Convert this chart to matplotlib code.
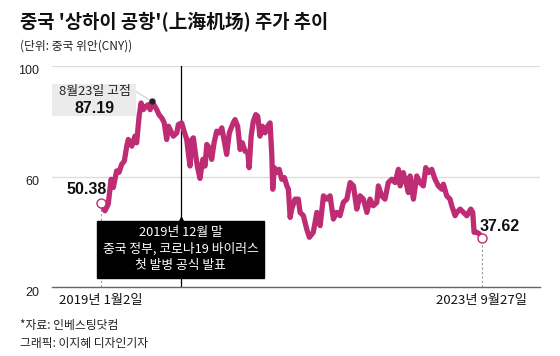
import matplotlib
matplotlib.use('Agg')
import matplotlib.pyplot as plt
import matplotlib.dates as mdates
from matplotlib.transforms import ScaledTranslation
import pandas as pd

plt.rcParams['font.family'] = ['Noto Sans CJK KR', 'DejaVu Sans']
NUMFONT = ['Liberation Sans', 'DejaVu Sans']

dates = [
    '2019-01-02', '2019-01-22', '2019-02-06', '2019-02-19', '2019-03-01', '2019-03-16',
    '2019-03-27', '2019-04-08', '2019-04-20', '2019-05-01', '2019-05-08', '2019-05-24',
    '2019-06-07', '2019-06-15', '2019-06-26', '2019-07-05', '2019-07-15', '2019-07-26',
    '2019-08-07', '2019-08-15', '2019-08-19', '2019-08-23', '2019-09-14', '2019-09-24',
    '2019-10-07', '2019-10-18', '2019-10-29', '2019-11-06', '2019-11-21', '2019-11-28',
    '2019-12-14', '2019-12-21', '2020-01-05', '2020-01-16', '2020-01-28', '2020-02-04',
    '2020-02-12', '2020-02-20', '2020-02-27', '2020-03-09', '2020-03-16', '2020-03-28',
    '2020-04-10', '2020-04-20', '2020-04-28', '2020-05-09', '2020-05-20', '2020-05-31',
    '2020-06-12', '2020-06-24', '2020-07-05', '2020-07-15', '2020-07-27', '2020-08-08',
    '2020-08-26', '2020-09-03', '2020-09-15', '2020-09-26', '2020-10-06', '2020-10-18',
    '2020-10-31', '2020-11-06', '2020-11-15', '2020-11-25', '2020-12-06', '2020-12-15',
    '2020-12-25', '2021-01-05', '2021-01-17', '2021-01-29', '2021-02-09', '2021-02-17',
    '2021-02-21', '2021-02-28', '2021-03-11', '2021-03-22', '2021-04-03', '2021-04-15',
    '2021-04-26', '2021-05-03', '2021-05-11', '2021-05-18', '2021-06-02', '2021-06-17',
    '2021-06-25', '2021-07-10', '2021-07-25', '2021-08-06', '2021-08-24', '2021-09-09',
    '2021-09-24', '2021-10-09', '2021-10-24', '2021-11-08', '2021-11-23', '2021-12-08',
    '2021-12-23', '2022-01-07', '2022-01-23', '2022-02-07', '2022-02-22', '2022-03-09',
    '2022-03-24', '2022-04-08', '2022-04-24', '2022-05-08', '2022-05-23', '2022-06-08',
    '2022-06-15', '2022-06-30', '2022-07-15', '2022-07-30', '2022-08-15', '2022-08-30',
    '2022-09-14', '2022-09-22', '2022-10-06', '2022-10-22', '2022-10-29', '2022-11-06',
    '2022-11-21', '2022-12-06', '2022-12-21', '2023-01-05', '2023-01-16', '2023-01-28',
    '2023-02-12', '2023-02-27', '2023-03-14', '2023-03-30', '2023-04-06', '2023-04-21',
    '2023-05-06', '2023-05-14', '2023-05-29', '2023-06-06', '2023-06-21', '2023-07-06',
    '2023-07-21', '2023-08-08', '2023-08-17', '2023-08-23', '2023-09-04', '2023-09-16',
    '2023-09-27',
]
prices = [
    50.38, 47.6, 50.0, 59.0, 56.0, 62.0,
    61.5, 64.4, 65.6, 71.0, 73.4, 71.0,
    74.6, 72.2, 81.8, 86.6, 84.2, 85.4,
    86.0, 84.2, 86.0, 87.19, 84.2, 82.4,
    81.2, 79.4, 73.4, 78.2, 75.8, 74.6,
    75.8, 78.8, 79.4, 76.4, 73.4, 68.6,
    63.8, 73.4, 74.0, 67.4, 63.8, 59.3,
    66.2, 63.8, 71.6, 70.4, 66.2, 72.2,
    76.4, 75.8, 77.6, 73.4, 68.0, 75.8,
    79.4, 80.6, 78.2, 69.8, 72.2, 69.2,
    68.6, 63.2, 74.6, 80.0, 82.4, 81.8,
    74.6, 78.2, 75.8, 78.2, 79.4, 67.4,
    55.4, 63.2, 61.4, 62.6, 59.0, 59.6,
    56.6, 55.4, 45.2, 48.2, 51.8, 51.8,
    47.0, 45.8, 41.0, 38.0, 39.8, 47.0,
    42.2, 53.0, 51.8, 53.0, 44.6, 47.0,
    45.8, 50.6, 51.8, 57.8, 56.6, 48.2,
    53.0, 51.8, 47.0, 51.8, 49.4, 50.6,
    56.6, 53.0, 51.8, 57.8, 59.0, 57.8,
    62.6, 56.6, 61.4, 56.6, 54.2, 60.2,
    51.8, 60.2, 57.8, 56.6, 63.2, 61.4,
    62.6, 59.0, 56.6, 55.4, 57.2, 53.0,
    51.8, 49.4, 45.8, 47.0, 48.2, 47.0,
    45.8, 48.2, 47.0, 39.8, 39.8, 39.2,
    37.62,
]

yticks = [20, 60, 100]
title = "중국 '상하이 공항'(上海机场) 주가 추이"
subtitle = "(단위: 중국 위안(CNY))"
peak_label = "8월23일 고점"
event_date = '2019-12-31'
event_text = "2019년 12월 말\n중국 정부, 코로나19 바이러스\n첫 발병 공식 발표"
start_label = "2019년 1월2일"
end_label = "2023년 9월27일"
source1 = "*자료: 인베스팅닷컴"
source2 = "그래픽: 이지혜 디자인기자"

LINE = '#BE2D74'

d = pd.to_datetime(dates)
s = pd.Series(prices, index=d)
peak_date = s.idxmax()
peak_val = s.max()

fig = plt.figure(figsize=(5.6, 3.56), dpi=100)
W, H = 560, 356
ax = fig.add_axes([52 / W, 1 - 287 / H, (540 - 52) / W, (287 - 66) / H])
ax.set_xlim(pd.Timestamp('2018-05-27'), pd.Timestamp('2024-06-17'))
ax.set_ylim(20, 100)

for sp in ['left', 'right', 'top']:
    ax.spines[sp].set_visible(False)
ax.spines['bottom'].set_color('#666666')
ax.spines['bottom'].set_linewidth(1.0)
ax.set_xticks([])
ax.set_yticks(yticks)
ax.set_yticklabels([str(v) for v in yticks], fontsize=9, color='#222222', family=NUMFONT)
ax.tick_params(axis='y', length=0, pad=9)
for lab in ax.get_yticklabels():
    lab.set_transform(lab.get_transform() + ScaledTranslation(0, -4 / 100, fig.dpi_scale_trans))
for v in yticks[1:]:
    ax.axhline(v, color='#dddddd', lw=1.0, zorder=0)

# event line
ev = pd.Timestamp(event_date)
ax.axvline(ev, color='black', lw=0.9, zorder=1)

# dashed drop lines
ax.plot([d[0], d[0]], [20, prices[0]], color='#999999', lw=0.8, ls=(0, (2, 2)), zorder=1)
ax.plot([d[-1], d[-1]], [20, prices[-1]], color='#999999', lw=0.8, ls=(0, (2, 2)), zorder=1)

# main line
ax.plot(d, prices, color=LINE, lw=3.8, solid_joinstyle='round', solid_capstyle='round', zorder=3)

# endpoints
ax.plot([d[0]], [prices[0]], 'o', ms=6.5, mfc='white', mec=LINE, mew=1.0, zorder=4)
ax.plot([d[-1]], [prices[-1]], 'o', ms=6.5, mfc='white', mec=LINE, mew=1.0, zorder=4)
ax.plot([peak_date], [peak_val], 'o', ms=3.5, color='#222222', zorder=5)

ax.annotate(f"{prices[0]:.2f}", (d[0], prices[0]), xytext=(-10, 9.5), textcoords='offset points',
            ha='center', va='center', fontsize=11.5, fontweight='bold', color='#111111', zorder=6,
            family=NUMFONT)
ax.annotate(f"{prices[-1]:.2f}", (d[-1], prices[-1]), xytext=(13, 8.5), textcoords='offset points',
            ha='center', va='center', fontsize=11.5, fontweight='bold', color='#111111', zorder=6,
            family=NUMFONT)

# peak callout box (pixel-based layout)
fx = lambda px: px / W
fy = lambda py: 1 - py / H
box = plt.Rectangle((fx(52), fy(116)), (136 - 52) / W, (116 - 84) / H, transform=fig.transFigure,
                    facecolor='#ebebeb', edgecolor='none', zorder=2)
fig.patches.append(box)
ax.annotate('', xy=(peak_date, peak_val), xycoords='data',
            xytext=(fx(135), fy(91)), textcoords='figure fraction',
            arrowprops=dict(arrowstyle='-', color='#cccccc', lw=0.8, shrinkA=0, shrinkB=2))
fig.text(fx(95), fy(92), peak_label, ha='center', va='center', fontsize=9.3, color='#222222')
fig.text(fx(95), fy(108.5), f"{peak_val:.2f}", ha='center', va='center', fontsize=11.5,
         fontweight='bold', color='#111111', family=NUMFONT)

# event box
ax.text(ev, 33.7, event_text, ha='center', va='center', fontsize=9.2, color='white',
        linespacing=1.3, zorder=6,
        bbox=dict(boxstyle='square,pad=0.45', fc='black', ec='black'))
ax.plot([ev], [44.3], marker='^', ms=4, color='black', zorder=6)

# x labels
ax.annotate(start_label, (d[0], 0), xycoords=('data', 'axes fraction'), xytext=(0, -9.5),
            textcoords='offset points', ha='center', va='center', fontsize=9.5, color='#111111')
ax.annotate(end_label, (d[-1], 0), xycoords=('data', 'axes fraction'), xytext=(0, -9.5),
            textcoords='offset points', ha='center', va='center', fontsize=9.5, color='#111111')

# titles and footer
fig.text(fx(20), fy(22), title, ha='left', va='center', fontsize=13.5, fontweight='bold', color='#111111')
fig.text(fx(20), fy(46), subtitle, ha='left', va='center', fontsize=8.5, color='#222222')
fig.text(fx(20), fy(325), source1, ha='left', va='center', fontsize=8.5, color='#222222')
fig.text(fx(20), fy(343), source2, ha='left', va='center', fontsize=8.5, color='#222222')

fig.savefig('out.png', dpi=100)
